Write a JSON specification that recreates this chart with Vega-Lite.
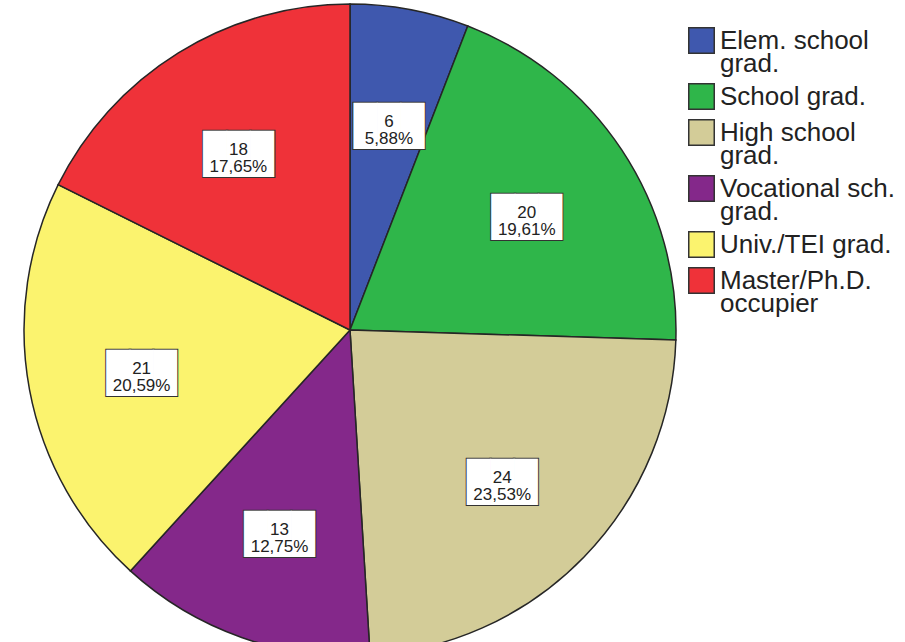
{
  "$schema": "https://vega.github.io/schema/vega-lite/v6.json",
  "width": 700,
  "height": 660,
  "padding": 0,
  "autosize": {"type": "pad"},
  "background": "white",
  "config": {"view": {"stroke": null}},
  "data": {
    "values": [
      {"k": 1, "level": "Elem. school grad.", "n": 6, "pct": "5,88%"},
      {"k": 2, "level": "School grad.", "n": 20, "pct": "19,61%"},
      {"k": 3, "level": "High school grad.", "n": 24, "pct": "23,53%"},
      {"k": 4, "level": "Vocational sch. grad.", "n": 13, "pct": "12,75%"},
      {"k": 5, "level": "Univ./TEI grad.", "n": 21, "pct": "20,59%"},
      {"k": 6, "level": "Master/Ph.D. occupier", "n": 18, "pct": "17,65%"}
    ]
  },
  "transform": [{"calculate": "datum.n + '\\n' + datum.pct", "as": "label"}],
  "encoding": {
    "theta": {"field": "n", "type": "quantitative", "stack": true},
    "order": {"field": "k", "type": "quantitative"}
  },
  "layer": [
    {
      "mark": {"type": "arc", "outerRadius": 326, "stroke": "#262626", "strokeWidth": 1.5},
      "encoding": {
        "color": {
          "field": "level",
          "type": "nominal",
          "scale": {
            "domain": ["Elem. school grad.", "School grad.", "High school grad.", "Vocational sch. grad.", "Univ./TEI grad.", "Master/Ph.D. occupier"],
            "range": ["#3f58ae", "#2fb64a", "#d3cc98", "#84288a", "#fbf36e", "#ef3239"]
          },
          "legend": {
            "title": null,
            "orient": "none",
            "legendX": 688,
            "legendY": 27,
            "padding": 0,
            "symbolType": "square",
            "symbolSize": 650,
            "symbolStrokeColor": "#333333",
            "symbolStrokeWidth": 1.5,
            "labelFont": "Liberation Sans",
            "labelFontSize": 26,
            "labelColor": "#222222",
            "labelOffset": 5,
            "labelLimit": 300,
            "rowPadding": 3,
            "labelExpr": "datum.label == 'Elem. school grad.' ? ['Elem. school', 'grad.'] : datum.label == 'High school grad.' ? ['High school', 'grad.'] : datum.label == 'Vocational sch. grad.' ? ['Vocational sch.', 'grad.'] : datum.label == 'Master/Ph.D. occupier' ? ['Master/Ph.D.', 'occupier'] : datum.label",
            "encode": {"labels": {"update": {"lineHeight": {"value": 23}}}}
          }
        }
      }
    },
    {
      "mark": {"type": "text", "font": "DejaVu Sans Mono", "fontSize": 39, "fill": "#ffffff", "stroke": "#333333", "strokeWidth": 2, "align": "center", "baseline": "middle", "dy": 5},
      "encoding": {"text": {"value": "███"}, "radius": {"value": 212}, "detail": {"field": "level"}}
    },
    {
      "mark": {"type": "text", "font": "DejaVu Sans Mono", "fontSize": 39, "fill": "#ffffff", "align": "center", "baseline": "middle", "dy": 5},
      "encoding": {"text": {"value": "███"}, "radius": {"value": 212}, "detail": {"field": "level"}}
    },
    {
      "mark": {"type": "text", "font": "Liberation Sans", "fontSize": 17, "lineHeight": 17, "lineBreak": "\n", "color": "#222222", "align": "center", "baseline": "middle"},
      "encoding": {"text": {"field": "label"}, "radius": {"value": 212}, "detail": {"field": "level"}}
    }
  ]
}
